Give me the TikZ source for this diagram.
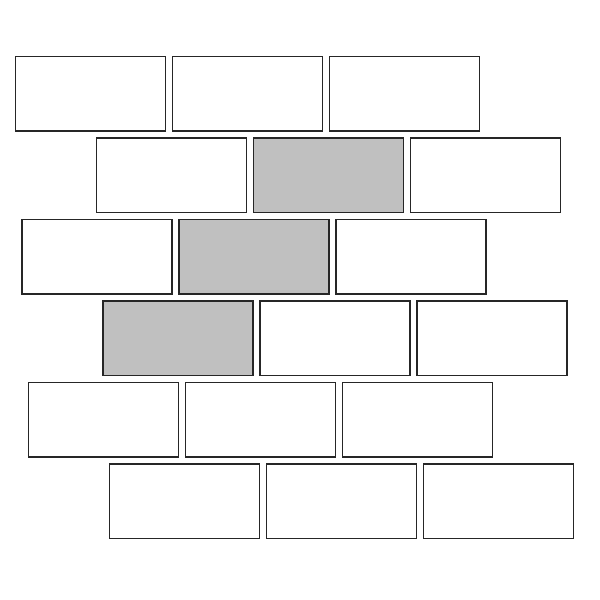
\documentclass[tikz,border=0pt]{standalone}
\definecolor{brickgray}{RGB}{192,192,192}
\tikzset{brick/.style={draw=black!85,line width=1.8pt,fill=white},
  shaded/.style={brick,fill=brickgray}}
\begin{document}
\begin{tikzpicture}[x=1pt,y=-1pt]
\useasboundingbox (0,0) rectangle (600,600);
\foreach \r/\xs/\yt in {1/14.5/55.5,2/95.5/137,3/21/218.5,4/102/300,5/27.5/381.5,6/108.5/463}{
  \foreach \c in {0,1,2}{
    \pgfmathsetmacro{\xl}{\xs+\c*157}
    \def\sty{brick}
    \ifnum\r=2 \ifnum\c=1 \def\sty{shaded}\fi\fi
    \ifnum\r=3 \ifnum\c=1 \def\sty{shaded}\fi\fi
    \ifnum\r=4 \ifnum\c=0 \def\sty{shaded}\fi\fi
    \node[\sty,minimum width=150pt,minimum height=74.5pt,inner sep=0pt,anchor=north west] (b\r\c) at (\xl,\yt) {};
  }
}
\end{tikzpicture}
\end{document}
